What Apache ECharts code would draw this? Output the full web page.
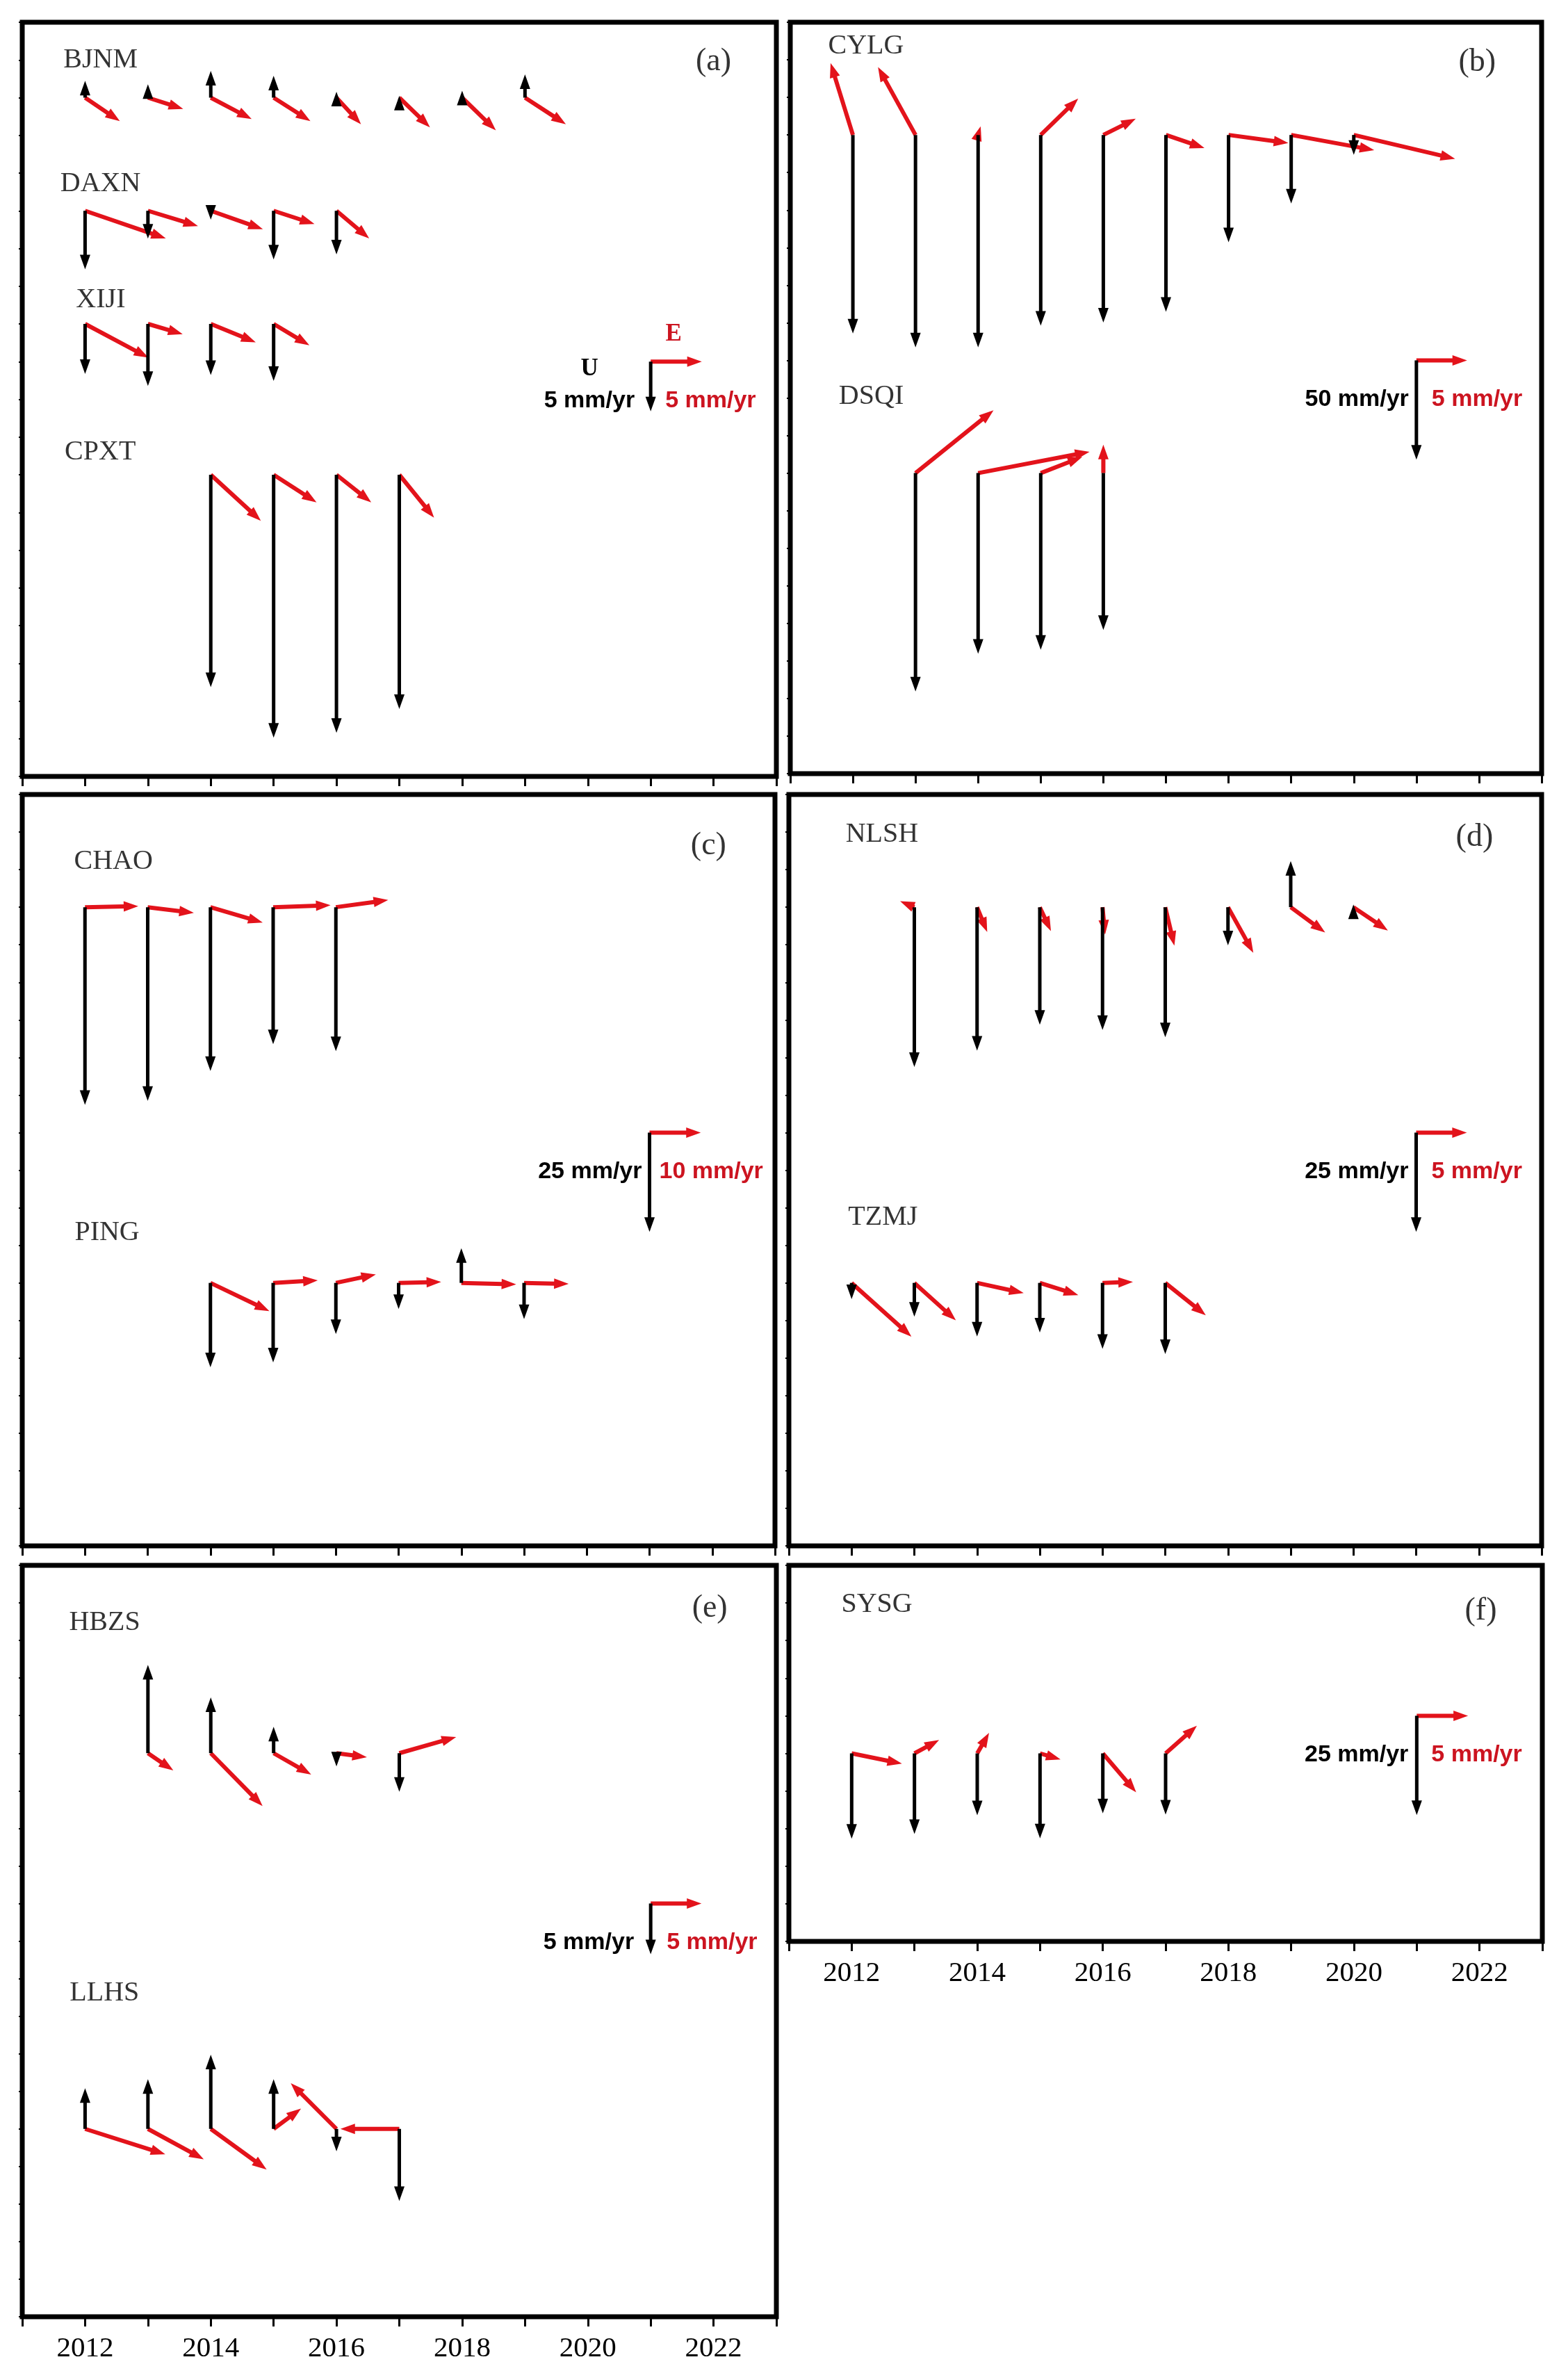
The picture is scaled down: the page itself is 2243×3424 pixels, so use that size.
<!DOCTYPE html>
<html>
<head>
<meta charset="utf-8">
<script src="https://cdn.jsdelivr.net/npm/echarts@6/dist/echarts.min.js"></script>
<style>
html, body { margin: 0; padding: 0; background: #fff; }
#chart { width: 2243px; height: 3424px; }
</style>
</head>
<body>
<div id="chart"></div>
<script>
// velocities in mm/yr, one value per year: up, east, north
const bjnmYears = [2012, 2013, 2014, 2015, 2016, 2017, 2018, 2019];
const bjnmUp = [1.7, 1.35, 2.7, 2.2, 0.6, 0.2, 0.7, 2.35];
const bjnmEast = [3.4, 3.45, 4.0, 3.6, 2.4, 3.0, 3.3, 4.0];
const bjnmNorth = [-2.3, -1.1, -2.1, -2.3, -2.6, -2.9, -3.2, -2.6];

const daxnYears = [2012, 2013, 2014, 2015, 2016];
const daxnUp = [-5.9, -2.8, -0.9, -4.9, -4.4];
const daxnEast = [7.9, 4.9, 5.1, 4.0, 3.2];
const daxnNorth = [-2.7, -1.5, -1.8, -1.3, -2.7];

const xijiYears = [2012, 2013, 2014, 2015];
const xijiUp = [-5.05, -6.25, -5.15, -5.75];
const xijiEast = [6.2, 3.4, 4.4, 3.5];
const xijiNorth = [-3.3, -1.0, -1.8, -2.1];

const cpxtYears = [2014, 2015, 2016, 2017];
const cpxtUp = [-21.4, -26.5, -26.0, -23.6];
const cpxtEast = [4.9, 4.2, 3.4, 3.4];
const cpxtNorth = [-4.5, -2.7, -2.7, -4.2];

const cylgYears = [2012, 2013, 2014, 2015, 2016, 2017, 2018, 2019, 2020];
const cylgUp = [-100, -107, -107, -96, -94.5, -89, -54, -34.5, -10];
const cylgEast = [-2.2, -3.7, 0.25, 3.7, 3.2, 3.8, 5.9, 8.2, 10.0];
const cylgNorth = [7.1, 6.7, 0.85, 3.6, 1.6, -1.3, -0.8, -1.5, -2.35];

const dsqiYears = [2013, 2014, 2015, 2016];
const dsqiUp = [-110, -91, -89, -79];
const dsqiEast = [7.7, 11.0, 4.1, 0.0];
const dsqiNorth = [6.2, 2.1, 1.6, 2.8];

const chaoYears = [2012, 2013, 2014, 2015, 2016];
const chaoUp = [-49.75, -48.75, -41.25, -34.5, -36.25];
const chaoEast = [10.4, 9.0, 10.2, 11.2, 10.2];
const chaoNorth = [0.2, -1.1, -3.0, 0.4, 1.4];

const pingYears = [2014, 2015, 2016, 2017, 2018, 2019];
const pingUp = [-21.25, -20.0, -12.9, -6.6, 8.75, -9.1];
const pingEast = [11.5, 8.7, 7.8, 8.3, 10.7, 8.7];
const pingNorth = [-5.5, 0.5, 1.65, 0.2, -0.3, -0.2];

const nlshYears = [2013, 2014, 2015, 2016, 2017, 2018, 2019, 2020];
const nlshUp = [-40.25, -36.1, -29.6, -30.9, -32.75, -9.6, 11.6, 0.7];
const nlshEast = [-1.4, 1.0, 1.1, 0.25, 0.9, 2.5, 3.4, 3.4];
const nlshNorth = [0.6, -2.45, -2.35, -2.7, -3.8, -4.5, -2.5, -2.3];

const tzmjYears = [2012, 2013, 2014, 2015, 2016, 2017];
const tzmjUp = [-4.1, -8.5, -13.5, -12.5, -16.6, -17.9];
const tzmjEast = [5.9, 4.1, 4.6, 3.8, 3.0, 4.0];
const tzmjNorth = [-5.3, -3.7, -1.0, -1.2, 0.1, -3.2];

const hbzsYears = [2013, 2014, 2015, 2016, 2017];
const hbzsUp = [8.7, 5.5, 2.6, -1.3, -3.8];
const hbzsEast = [2.5, 5.1, 3.7, 3.0, 5.6];
const hbzsNorth = [-1.7, -5.2, -2.1, -0.4, 1.6];

const llhsYears = [2012, 2013, 2014, 2015, 2016, 2017];
const llhsUp = [4.0, 4.9, 7.3, 4.9, -2.2, -7.1];
const llhsEast = [7.9, 5.5, 5.5, 2.7, -4.5, -5.8];
const llhsNorth = [-2.5, -3.0, -4.0, 2.0, 4.5, 0];

const sysgYears = [2012, 2013, 2014, 2015, 2016, 2017];
const sysgUp = [-21.5, -20.3, -15.6, -21.4, -15.1, -15.4];
const sysgEast = [4.9, 2.4, 1.15, 2.0, 3.25, 3.05];
const sysgNorth = [-1.0, 1.3, 2.0, -0.6, -3.8, 2.7];

const yearLabels = [2012, 2014, 2016, 2018, 2020, 2022];

const RED = '#e3131b';
const RED_TEXT = '#cc1420';
const SERIF = '"Liberation Serif", "Times New Roman", serif';
const SANS = '"Liberation Sans", Arial, sans-serif';

function st(name, row, years, up, east, north, at) {
    return { name: name, row: row, years: years, up: up, east: east, north: north, at: at };
}

// uScale: mm/yr per y unit (black), enScale: mm/yr per year (red)
const panels = [
    {
        tag: '(a)', tagAt: [2022.0, 18.95], box: [32, 32, 1085, 1085], rows: 20,
        uScale: 3.80, enScale: 6.15, uRef: 5, enRef: 5, legendRow: 11,
        upText: '5 mm/yr', enText: '5 mm/yr', upGap: 23, enGap: 21, showUE: true,
        stations: [
            st('BJNM', 18, bjnmYears, bjnmUp, bjnmEast, bjnmNorth, [2011.65, 19.0]),
            st('DAXN', 15, daxnYears, daxnUp, daxnEast, daxnNorth, [2011.6, 15.72]),
            st('XIJI', 12, xijiYears, xijiUp, xijiEast, xijiNorth, [2011.85, 12.63]),
            st('CPXT', 8, cpxtYears, cpxtUp, cpxtEast, cpxtNorth, [2011.67, 8.59])
        ]
    },
    {
        tag: '(b)', tagAt: [2021.97, 18.93], box: [1137, 32, 1081, 1081], rows: 20,
        uScale: 18.92, enScale: 6.18, uRef: 50, enRef: 5, legendRow: 11,
        upText: '50 mm/yr', enText: '5 mm/yr', upGap: 11, enGap: 22,
        stations: [
            st('CYLG', 17, cylgYears, cylgUp, cylgEast, cylgNorth, [2011.6, 19.37]),
            st('DSQI', 8, dsqiYears, dsqiUp, dsqiEast, dsqiNorth, [2011.77, 10.03])
        ]
    },
    {
        tag: '(c)', tagAt: [2021.94, 18.63], box: [32, 1143, 1083, 1081], rows: 20,
        uScale: 9.46, enScale: 12.24, uRef: 25, enRef: 10, legendRow: 11,
        upText: '25 mm/yr', enText: '10 mm/yr', upGap: 11, enGap: 14,
        stations: [
            st('CHAO', 17, chaoYears, chaoUp, chaoEast, chaoNorth, [2011.82, 18.22]),
            st('PING', 7, pingYears, pingUp, pingEast, pingNorth, [2011.83, 8.33])
        ]
    },
    {
        tag: '(d)', tagAt: [2021.93, 18.85], box: [1135, 1143, 1083, 1081], rows: 20,
        uScale: 9.46, enScale: 6.19, uRef: 25, enRef: 5, legendRow: 11,
        upText: '25 mm/yr', enText: '5 mm/yr', upGap: 11, enGap: 22,
        stations: [
            st('NLSH', 17, nlshYears, nlshUp, nlshEast, nlshNorth, [2011.9, 18.93]),
            st('TZMJ', 7, tzmjYears, tzmjUp, tzmjEast, tzmjNorth, [2011.94, 8.75])
        ]
    },
    {
        tag: '(e)', tagAt: [2021.94, 18.85], box: [32, 2252, 1085, 1081], rows: 20,
        uScale: 3.70, enScale: 6.19, uRef: 5, enRef: 5, legendRow: 11,
        upText: '5 mm/yr', enText: '5 mm/yr', upGap: 24, enGap: 23, yearAxis: true,
        stations: [
            st('HBZS', 15, hbzsYears, hbzsUp, hbzsEast, hbzsNorth, [2011.74, 18.48]),
            st('LLHS', 5, llhsYears, llhsUp, llhsEast, llhsNorth, [2011.75, 8.62])
        ]
    },
    {
        tag: '(f)', tagAt: [2022.02, 8.78], box: [1135, 2252, 1084, 541], rows: 10,
        uScale: 9.47, enScale: 6.12, uRef: 25, enRef: 5, legendRow: 6,
        upText: '25 mm/yr', enText: '5 mm/yr', upGap: 12, enGap: 21, yearAxis: true,
        stations: [
            st('SYSG', 5, sysgYears, sysgUp, sysgEast, sysgNorth, [2011.83, 8.96])
        ]
    }
];

// GMT-like vector: shaft plus a fixed-size head whose tip sits on the end point
function arrow(from, to, color, width) {
    const dx = to[0] - from[0], dy = to[1] - from[1];
    const len = Math.sqrt(dx * dx + dy * dy);
    if (len < 0.5) return [];
    const ux = dx / len, uy = dy / len;
    const hl = 21, hw = 15;
    const bx = to[0] - ux * hl, by = to[1] - uy * hl;
    const parts = [];
    if (len > hl) {
        parts.push({
            type: 'line',
            shape: { x1: from[0], y1: from[1], x2: bx + ux * 2, y2: by + uy * 2 },
            style: { stroke: color, lineWidth: width }
        });
    }
    parts.push({
        type: 'polygon',
        shape: { points: [[to[0], to[1]], [bx - uy * hw / 2, by + ux * hw / 2], [bx + uy * hw / 2, by - ux * hw / 2]] },
        style: { fill: color }
    });
    return parts;
}

function legendTexts(p, o) {
    const t = [
        { type: 'text', style: { text: p.upText, x: o[0] - p.upGap, y: o[1] + 56, fill: '#000', fontSize: 34, fontWeight: 'bold', fontFamily: SANS, align: 'right', verticalAlign: 'middle' } },
        { type: 'text', style: { text: p.enText, x: o[0] + p.enGap, y: o[1] + 56, fill: RED_TEXT, fontSize: 34, fontWeight: 'bold', fontFamily: SANS, align: 'left', verticalAlign: 'middle' } }
    ];
    if (p.showUE) {
        t.push({ type: 'text', style: { text: 'U', x: o[0] - 88, y: o[1] + 11, fill: '#000', fontSize: 35, fontWeight: 'bold', fontFamily: SERIF, align: 'center', verticalAlign: 'middle' } });
        t.push({ type: 'text', style: { text: 'E', x: o[0] + 33, y: o[1] - 39, fill: RED_TEXT, fontSize: 35, fontWeight: 'bold', fontFamily: SERIF, align: 'center', verticalAlign: 'middle' } });
    }
    return t;
}

function vectorRender(p, withText) {
    return function (params, api) {
        const yr = api.value(0), row = api.value(1);
        const o = api.coord([yr, row]);
        const tipU = api.coord([yr, row + api.value(2) / p.uScale]);
        const k = api.size([1, 0])[0] / p.enScale; // px per mm/yr for the red vectors
        const tipEN = [o[0] + api.value(3) * k, o[1] - api.value(4) * k];
        let children = arrow(o, tipEN, RED, 6).concat(arrow(o, tipU, '#000', 5));
        if (withText) children = children.concat(legendTexts(p, o));
        return { type: 'group', children: children };
    };
}

const grids = [], xAxes = [], yAxes = [], series = [];

panels.forEach(function (p, i) {
    grids.push({
        left: p.box[0], top: p.box[1], width: p.box[2], height: p.box[3],
        show: true, borderColor: '#000', borderWidth: 7, backgroundColor: 'transparent'
    });
    xAxes.push({
        type: 'value', gridIndex: i, min: 2011, max: 2023, interval: 1,
        axisLine: { show: false },
        axisTick: { show: true, inside: false, length: 14, lineStyle: { color: '#000', width: 3 } },
        splitLine: { show: false },
        axisLabel: {
            show: !!p.yearAxis, margin: 26, color: '#000', fontSize: 41, fontFamily: SERIF,
            formatter: function (v) { return yearLabels.indexOf(v) >= 0 ? String(v) : ''; }
        }
    });
    yAxes.push({
        type: 'value', gridIndex: i, min: 0, max: p.rows, interval: 1,
        axisLine: { show: false },
        axisTick: { show: true, inside: false, length: 5, lineStyle: { color: '#000', width: 2 } },
        splitLine: { show: false },
        axisLabel: { show: false }
    });

    const vecData = [];
    p.stations.forEach(function (s) {
        for (let j = 0; j < s.years.length; j++) {
            vecData.push([s.years[j], s.row, s.up[j], s.east[j], s.north[j]]);
        }
    });
    series.push({
        type: 'custom', xAxisIndex: i, yAxisIndex: i, clip: false, silent: true,
        renderItem: vectorRender(p, false), data: vecData
    });
    // reference vectors (scale legend)
    series.push({
        type: 'custom', xAxisIndex: i, yAxisIndex: i, clip: false, silent: true,
        renderItem: vectorRender(p, true),
        data: [[2021, p.legendRow, -p.uRef, p.enRef, 0]]
    });

    const labelData = p.stations.map(function (s) {
        return { value: s.at, name: s.name };
    });
    labelData.push({
        value: p.tagAt, name: p.tag,
        label: { position: 'inside', fontSize: 46 }
    });
    series.push({
        type: 'scatter', xAxisIndex: i, yAxisIndex: i, silent: true,
        symbolSize: 1, itemStyle: { color: 'rgba(255,255,255,0)' },
        label: {
            show: true, position: 'right', distance: 0, formatter: '{b}',
            color: '#000', fontSize: 40, fontFamily: SERIF
        },
        data: labelData
    });
});

const chart = echarts.init(document.getElementById('chart'));
chart.setOption({
    animation: false,
    backgroundColor: '#fff',
    grid: grids,
    xAxis: xAxes,
    yAxis: yAxes,
    series: series
});
</script>
</body>
</html>
